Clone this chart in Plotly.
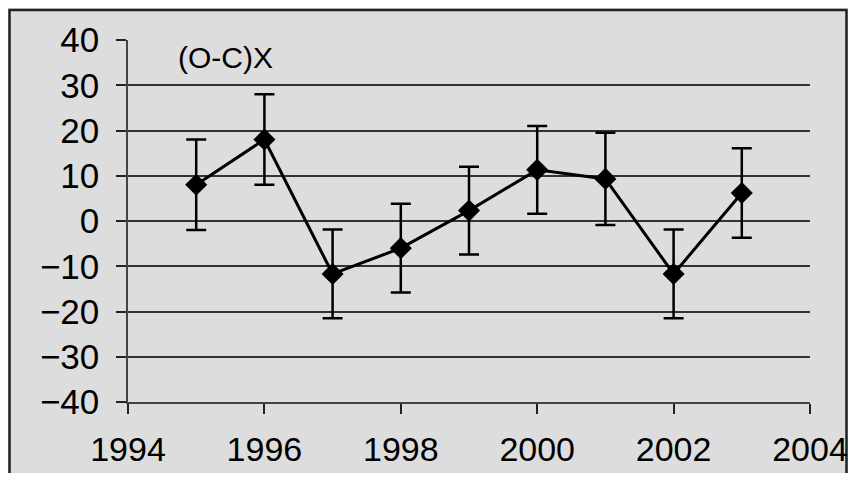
import plotly.graph_objects as go

years = [1995, 1996, 1997, 1998, 1999, 2000, 2001, 2002, 2003]
oc_x = [8.0, 18.0, -11.7, -6.0, 2.3, 11.3, 9.3, -11.7, 6.2]
err = [10.0, 10.0, 9.8, 9.8, 9.7, 9.7, 10.2, 9.8, 9.9]
y_ticks = [40, 30, 20, 10, 0, -10, -20, -30, -40]
grid_ticks = [30, 20, 10, 0, -10, -20, -30]
x_ticks = [1994, 1996, 1998, 2000, 2002, 2004]
label = "(O-C)X"

# page body has an 8px margin, so the figure starts at (8, 8) in the window;
# keep it inside the window so no scrollbars appear
OFF = 8
W, H = 856 - 2 * OFF, 481 - 2 * OFF
L, T = 128 - OFF, 40 - OFF
R, B = W - (810 - OFF), H - (402 - OFF)
pw, ph = W - L - R, H - T - B

fig = go.Figure()
fig.add_trace(go.Scatter(
    x=years, y=oc_x,
    mode="lines+markers",
    line=dict(color="black", width=3),
    marker=dict(symbol="diamond", size=17, color="black"),
    error_y=dict(type="data", array=err, visible=True, color="black", thickness=2.5, width=10),
    showlegend=False,
))
# invisible trace to activate grid axis
fig.add_trace(go.Scatter(x=[years[0]], y=[oc_x[0]], yaxis="y2", mode="markers",
                         marker=dict(opacity=0), showlegend=False, hoverinfo="skip"))

font = "Liberation Sans, Arial, sans-serif"
fig.update_layout(
    width=W, height=H,
    margin=dict(l=L, r=R, t=T, b=B, autoexpand=False),
    paper_bgcolor="#dddddd",
    plot_bgcolor="#dddddd",
    font=dict(family=font, color="black"),
    xaxis=dict(
        range=[1994, 2004], tickvals=x_ticks, ticktext=[str(v) for v in x_ticks],
        showgrid=False, zeroline=False, automargin=False,
        showline=True, linecolor="#444", linewidth=1.5,
        ticks="outside", ticklen=10, tickcolor="#222", tickwidth=1.5,
        tickfont=dict(size=34, family=font, color="black"),
        ticklabelstandoff=6, ticklabeloverflow="allow",
    ),
    yaxis=dict(
        range=[-40, 40], tickvals=y_ticks, ticktext=[str(v) if v >= 0 else "\u2212" + str(-v) for v in y_ticks],
        showgrid=False, zeroline=False, automargin=False,
        showline=True, linecolor="#444", linewidth=1.5,
        ticks="outside", ticklen=10, tickcolor="#222", tickwidth=1.5,
        tickfont=dict(size=35, family=font, color="black"),
        ticklabelstandoff=10, ticklabeloverflow="allow",
    ),
    yaxis2=dict(
        range=[-40, 40], overlaying="y", tickvals=grid_ticks, showticklabels=False,
        showgrid=True, gridcolor="#333", gridwidth=1.5, zeroline=False, showline=False,
        automargin=False,
    ),
    annotations=[dict(
        text=label, xref="paper", yref="paper",
        x=(225 - OFF - L) / pw, y=(H - B - (58 - OFF)) / ph, xanchor="center", yanchor="middle",
        showarrow=False, font=dict(size=30, family=font, color="black"),
    )],
    shapes=[dict(
        type="rect", xref="paper", yref="paper",
        x0=(9.5 - OFF - L) / pw, x1=(W - 1.5) / pw - L / pw,
        y0=(H - B - 490) / ph, y1=(H - B - (10 - OFF)) / ph,
        line=dict(color="#222", width=2.5), fillcolor="rgba(0,0,0,0)", layer="below",
    )],
)

fig.write_html("out.html")
